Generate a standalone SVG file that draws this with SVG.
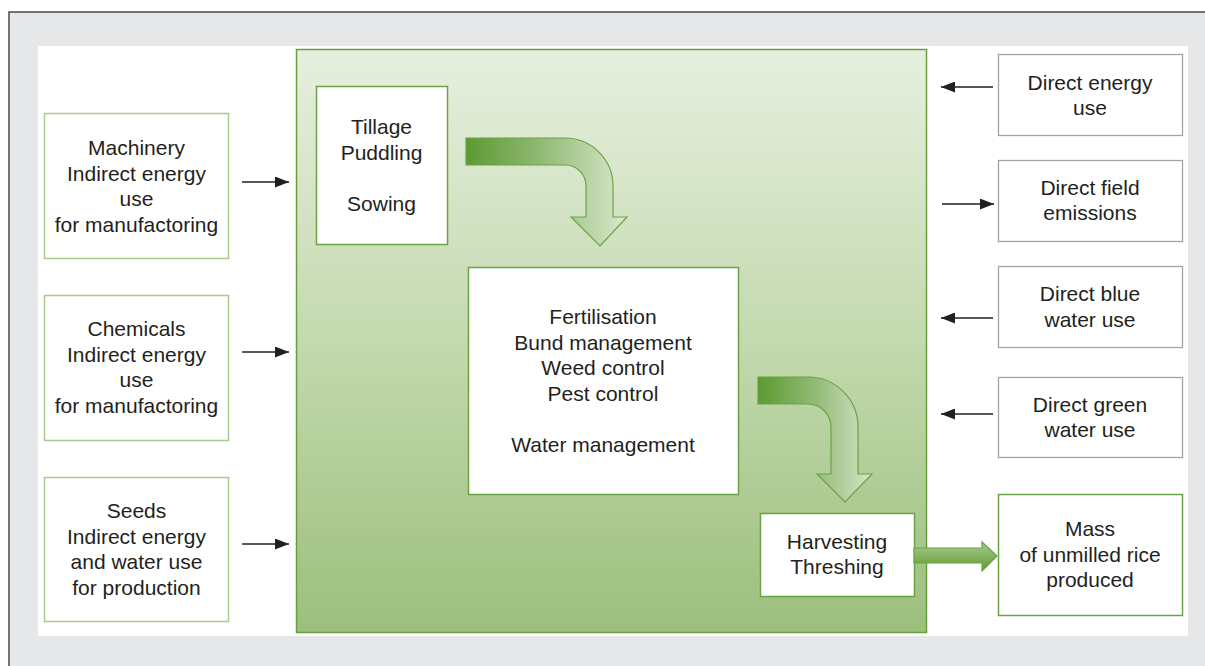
<svg xmlns="http://www.w3.org/2000/svg" width="1205" height="666" viewBox="0 0 1205 666">
<defs>
<linearGradient id="panelGrad" x1="0" y1="0" x2="0" y2="1">
<stop offset="0" stop-color="#e7efdf"/>
<stop offset="0.5" stop-color="#c3d9ae"/>
<stop offset="1" stop-color="#9cbf7d"/>
</linearGradient>
<linearGradient id="curveGrad1" gradientUnits="userSpaceOnUse" x1="466" y1="0" x2="627" y2="0">
<stop offset="0" stop-color="#5b9a31"/>
<stop offset="0.45" stop-color="#8fb872"/>
<stop offset="1" stop-color="#dbe8cd"/>
</linearGradient>
<linearGradient id="curveGrad2" gradientUnits="userSpaceOnUse" x1="758" y1="0" x2="872" y2="0">
<stop offset="0" stop-color="#5b9a31"/>
<stop offset="0.5" stop-color="#92ba76"/>
<stop offset="1" stop-color="#d6e5c7"/>
</linearGradient>
<linearGradient id="straightGrad" x1="0" y1="0" x2="0" y2="1">
<stop offset="0" stop-color="#a9cb8c"/>
<stop offset="1" stop-color="#5f9b35"/>
</linearGradient>
<marker id="ah" markerWidth="14" markerHeight="11" refX="14" refY="5.5" orient="auto" markerUnits="userSpaceOnUse">
<path d="M0,0 L14,5.5 L0,11 Z" fill="#231f20"/>
</marker>
</defs>
<style>
text { font-family: "Liberation Sans", Arial, Helvetica, sans-serif; font-size: 21px; fill: #231f20; text-anchor: middle; }
.lbox { fill: #ffffff; stroke: #a9c98f; stroke-width: 1.5; }
.gbox { fill: #ffffff; stroke: #a3a3a3; stroke-width: 1.3; }
.ibox { fill: #ffffff; stroke: #6aa343; stroke-width: 1.5; }
.conn { stroke: #231f20; stroke-width: 1.5; fill: none; marker-end: url(#ah); }
.bigarrow { stroke: #6aa343; stroke-width: 1.2; }
</style>
<rect x="0" y="0" width="1205" height="666" fill="#ffffff"/>
<rect x="9" y="12" width="1205" height="670" fill="#e6e7e9" stroke="#555555" stroke-width="1.6"/>
<rect x="38" y="46" width="1150" height="590" fill="#ffffff"/>

<g id="process-panel">
<rect x="296.5" y="49.5" width="630" height="583" fill="url(#panelGrad)" stroke="#66a03a" stroke-width="1.5"/>
</g>

<g id="machinery">
<rect class="lbox" x="44.5" y="113.5" width="184" height="145"/>
<text x="136.5" y="155">Machinery</text>
<text x="136.5" y="180.5">Indirect energy</text>
<text x="136.5" y="206">use</text>
<text x="136.5" y="231.5">for manufactoring</text>
</g>
<g id="chemicals">
<rect class="lbox" x="44.5" y="295.5" width="184" height="145"/>
<text x="136.5" y="336">Chemicals</text>
<text x="136.5" y="361.5">Indirect energy</text>
<text x="136.5" y="387">use</text>
<text x="136.5" y="412.5">for manufactoring</text>
</g>
<g id="seeds">
<rect class="lbox" x="44.5" y="477.5" width="184" height="144"/>
<text x="136.5" y="518">Seeds</text>
<text x="136.5" y="543.5">Indirect energy</text>
<text x="136.5" y="569">and water use</text>
<text x="136.5" y="594.5">for production</text>
</g>

<g id="tillage">
<rect class="ibox" x="316.5" y="86.5" width="131" height="158"/>
<text x="381.5" y="134">Tillage</text>
<text x="381.5" y="159.5">Puddling</text>
<text x="381.5" y="211">Sowing</text>
</g>
<g id="fertilisation">
<rect class="ibox" x="468.5" y="267.5" width="270" height="227"/>
<text x="603" y="324">Fertilisation</text>
<text x="603" y="349.5">Bund management</text>
<text x="603" y="375">Weed control</text>
<text x="603" y="400.5">Pest control</text>
<text x="603" y="452">Water management</text>
</g>
<g id="harvesting">
<rect class="ibox" x="760.5" y="513.5" width="154" height="83"/>
<text x="837" y="549">Harvesting</text>
<text x="837" y="574">Threshing</text>
</g>

<g id="direct-energy">
<rect class="gbox" x="998.5" y="54.5" width="184" height="81"/>
<text x="1090" y="90">Direct energy</text>
<text x="1090" y="115">use</text>
</g>
<g id="direct-emissions">
<rect class="gbox" x="998.5" y="160.5" width="184" height="81"/>
<text x="1090" y="195">Direct field</text>
<text x="1090" y="220">emissions</text>
</g>
<g id="direct-blue">
<rect class="gbox" x="998.5" y="266.5" width="184" height="81"/>
<text x="1090" y="301">Direct blue</text>
<text x="1090" y="327">water use</text>
</g>
<g id="direct-green">
<rect class="gbox" x="998.5" y="377.5" width="184" height="80"/>
<text x="1090" y="412">Direct green</text>
<text x="1090" y="437">water use</text>
</g>
<g id="mass">
<rect class="ibox" x="998.5" y="494.5" width="184" height="121"/>
<text x="1090" y="536">Mass</text>
<text x="1090" y="562">of unmilled rice</text>
<text x="1090" y="587">produced</text>
</g>

<g id="connectors">
<line class="conn" x1="242" y1="182" x2="289" y2="182"/>
<line class="conn" x1="242" y1="352" x2="289" y2="352"/>
<line class="conn" x1="242" y1="544" x2="289" y2="544"/>
<line class="conn" x1="993" y1="87" x2="941" y2="87"/>
<line class="conn" x1="942" y1="204" x2="994" y2="204"/>
<line class="conn" x1="993" y1="318" x2="941" y2="318"/>
<line class="conn" x1="993" y1="414" x2="941" y2="414"/>
<path class="bigarrow" fill="url(#curveGrad1)" d="M466,138 L565,138 A48,48 0 0 1 613,186 L613,217 L627,217 L600,246 L571,217 L586,217 L586,186 A21,21 0 0 0 565,165 L466,165 Z"/>
<path class="bigarrow" fill="url(#curveGrad2)" d="M758,377 L808,377 A50,50 0 0 1 858,427 L858,474 L872,474 L845,502 L817,474 L831,474 L831,427 A23,23 0 0 0 808,404 L758,404 Z"/>
<path class="bigarrow" fill="url(#straightGrad)" d="M914,548 L982,548 L982,542 L997,556 L982,571 L982,563 L914,563 Z"/>
</g>
</svg>
